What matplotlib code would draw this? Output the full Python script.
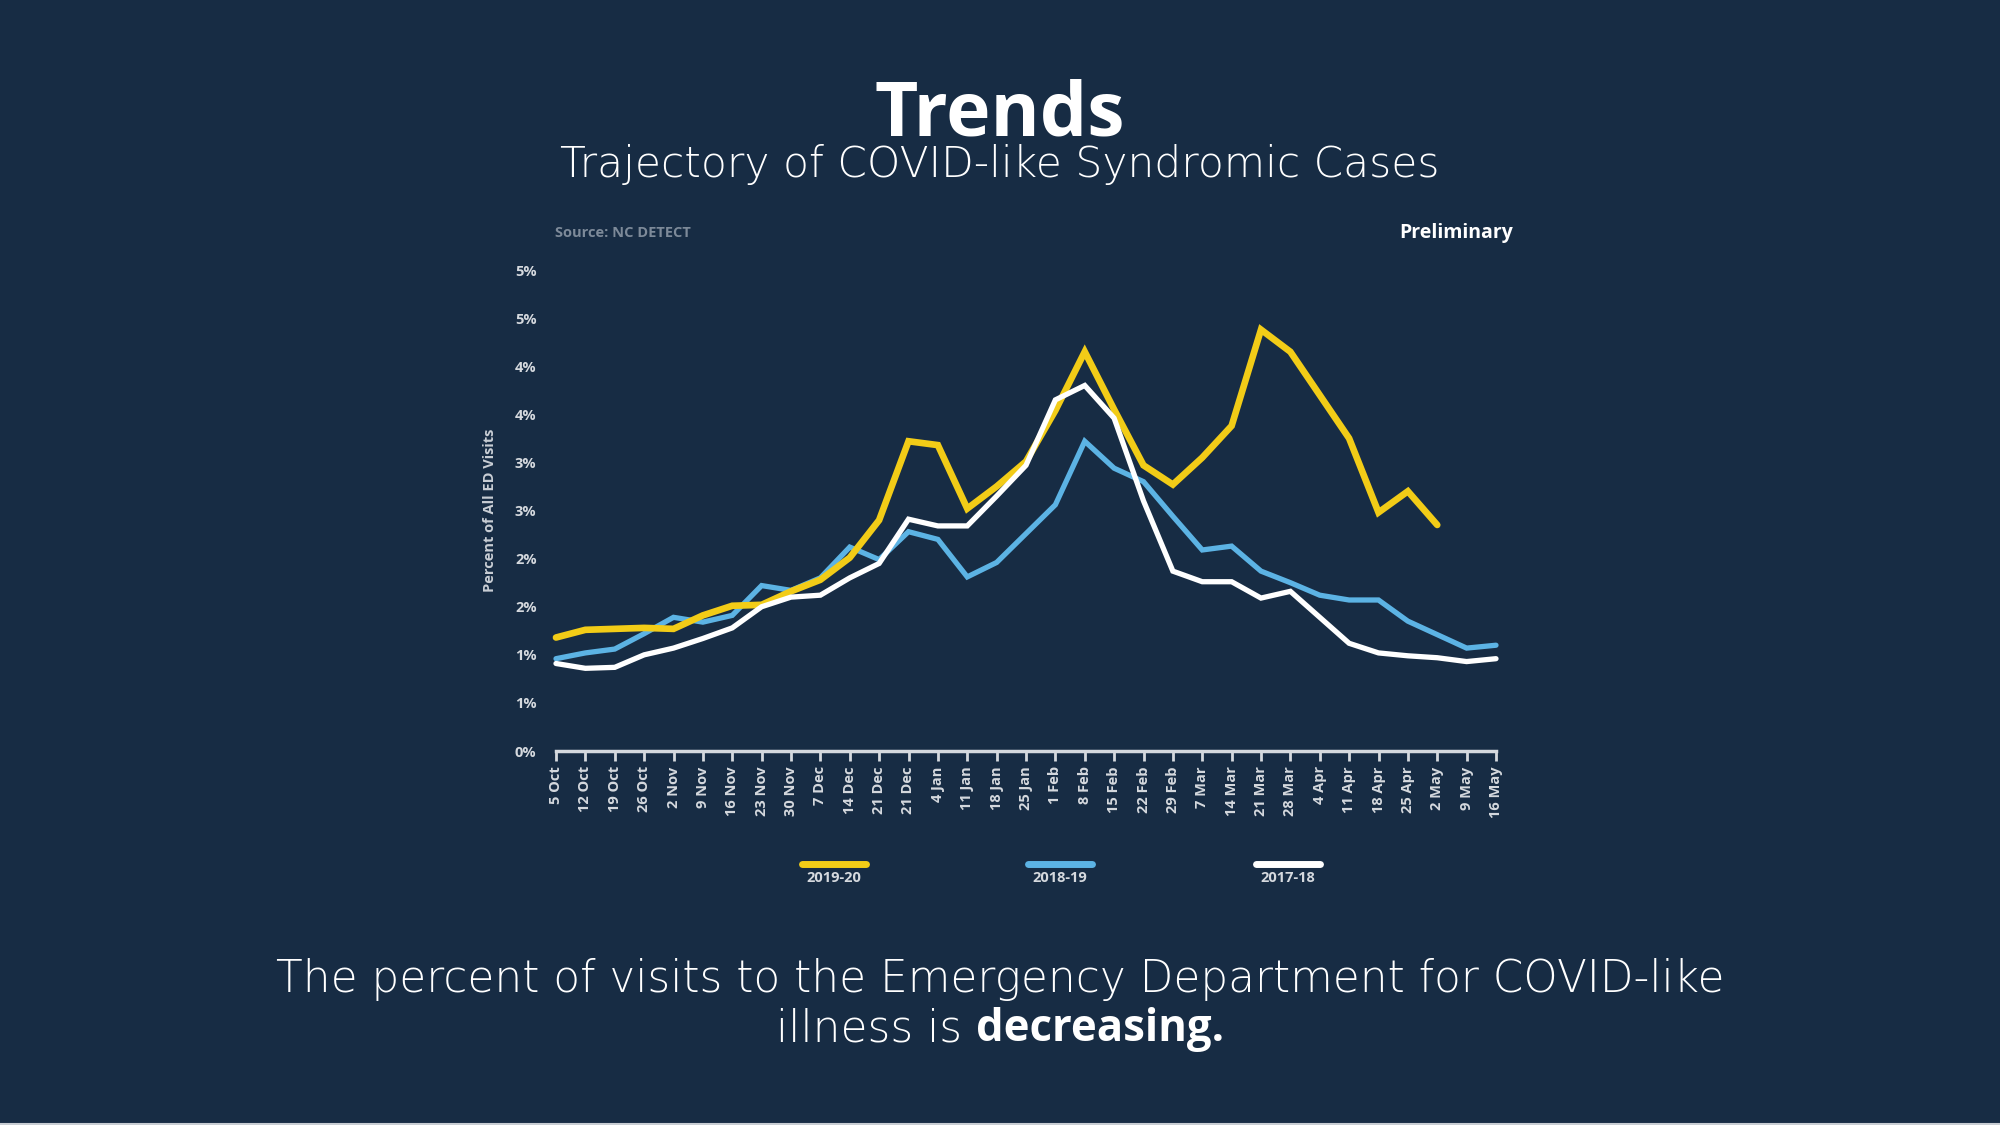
"""Trends: trajectory of COVID-like syndromic cases (NC DETECT), dark slide style."""
import matplotlib
matplotlib.use('Agg')
import matplotlib.pyplot as plt
from matplotlib.lines import Line2D
import numpy as np

BG = '#172C44'
YELLOW = '#F2CC17'
BLUE = '#5CB3E4'
WHITE = '#FFFFFF'
TICK = '#D5D9DE'

plt.rcParams.update({
    'font.family': ['Open Sans', 'DejaVu Sans'],
    'figure.facecolor': BG,
    'axes.facecolor': BG,
})

weeks = ['5 Oct', '12 Oct', '19 Oct', '26 Oct', '2 Nov', '9 Nov', '16 Nov', '23 Nov',
         '30 Nov', '7 Dec', '14 Dec', '21 Dec', '21 Dec', '4 Jan', '11 Jan', '18 Jan',
         '25 Jan', '1 Feb', '8 Feb', '15 Feb', '22 Feb', '29 Feb', '7 Mar', '14 Mar',
         '21 Mar', '28 Mar', '4 Apr', '11 Apr', '18 Apr', '25 Apr', '2 May', '9 May', '16 May']

s2019_20 = [1.18, 1.26, 1.27, 1.28, 1.27, 1.41, 1.51, 1.52, 1.66, 1.78, 2.01, 2.40, 3.22,
            3.18, 2.52, 2.75, 3.01, 3.54, 4.15, 3.55, 2.97, 2.77, 3.05, 3.38, 4.38, 4.15,
            3.70, 3.25, 2.48, 2.70, 2.35]
s2018_19 = [0.96, 1.02, 1.06, 1.22, 1.39, 1.34, 1.41, 1.72, 1.67, 1.80, 2.12, 1.99, 2.28,
            2.20, 1.81, 1.96, 2.26, 2.56, 3.22, 2.94, 2.80, 2.44, 2.09, 2.13, 1.87, 1.75,
            1.62, 1.57, 1.57, 1.35, 1.21, 1.07, 1.10]
s2017_18 = [0.91, 0.86, 0.87, 1.00, 1.07, 1.17, 1.28, 1.50, 1.60, 1.62, 1.80, 1.95, 2.41,
            2.34, 2.34, 2.65, 2.97, 3.65, 3.80, 3.46, 2.60, 1.87, 1.76, 1.76, 1.59, 1.66,
            1.39, 1.12, 1.02, 0.99, 0.97, 0.93, 0.96]

yticks = [0, 0.5, 1, 1.5, 2, 2.5, 3, 3.5, 4, 4.5, 5]
ytick_labels = ['0%', '1%', '1%', '2%', '2%', '3%', '3%', '4%', '4%', '5%', '5%']

LIGHT = ['DejaVu Sans', 'Open Sans']  # wider face, closer to the slide's geometric font

fig = plt.figure(figsize=(20, 11.25), dpi=100)
ax = fig.add_axes([0.278, 0.3324, 0.470, 0.4276])

x = np.arange(len(weeks))
ax.plot(x[:len(s2018_19)], s2018_19, color=BLUE, lw=3.8, solid_capstyle='round',
        solid_joinstyle='miter', clip_on=False, zorder=3)
ax.plot(x[:len(s2019_20)], s2019_20, color=YELLOW, lw=4.8, solid_capstyle='round',
        solid_joinstyle='miter', clip_on=False, zorder=4)
ax.plot(x[:len(s2017_18)], s2017_18, color=WHITE, lw=3.8, solid_capstyle='round',
        solid_joinstyle='miter', clip_on=False, zorder=5)

ax.set_xlim(0, len(weeks) - 1)
ax.set_ylim(0, 5)
ax.set_yticks(yticks)
ax.set_yticklabels(ytick_labels)
ax.set_xticks(x)
ax.set_xticklabels(weeks, rotation=90)

for side in ['top', 'right', 'left']:
    ax.spines[side].set_visible(False)
ax.spines['bottom'].set_color(TICK)
ax.spines['bottom'].set_linewidth(2.5)
ax.tick_params(axis='x', colors=TICK, length=7, width=2, pad=4, labelsize=10.5)
ax.tick_params(axis='y', length=0, pad=14, labelsize=10.5, colors=TICK)
for lbl in ax.get_xticklabels() + ax.get_yticklabels():
    lbl.set_fontweight('bold')
    lbl.set_color(TICK)

ax.set_ylabel('Percent of All ED Visits', color='#C9CED5', fontsize=10.5,
              fontweight='bold', labelpad=13)

# headings
fig.text(0.5, 0.8795, 'Trends', ha='center', va='baseline', color=WHITE,
         fontsize=54, fontweight='bold')
fig.text(0.5, 0.8425, 'Trajectory of COVID-like Syndromic Cases', ha='center',
         va='baseline', color=WHITE, fontsize=30.5, fontweight=200, family=LIGHT)
fig.text(0.2775, 0.793, 'Source: NC DETECT', ha='left', va='center', color='#7D8A99',
         fontsize=10.5, fontweight='bold')
fig.text(0.7565, 0.793, 'Preliminary', ha='right', va='center', color=WHITE,
         fontsize=14, fontweight='bold')

# legend keys drawn underneath the axis, label under each swatch
legend_items = [('2019-20', YELLOW, 0.417), ('2018-19', BLUE, 0.530), ('2017-18', WHITE, 0.644)]
for name, col, cx in legend_items:
    fig.add_artist(Line2D([cx - 0.016, cx + 0.016], [0.2320, 0.2320], color=col, lw=5,
                          solid_capstyle='round', transform=fig.transFigure))
    fig.text(cx, 0.2195, name, ha='center', va='center', color=TICK, fontsize=10.5,
             fontweight='bold')

# bottom message
fig.text(0.5, 0.129, 'The percent of visits to the Emergency Department for COVID-like',
         ha='center', va='center', color=WHITE, fontsize=31.5, fontweight=200, family=LIGHT)
r = fig.canvas.get_renderer()
t1 = fig.text(0, 0.085, 'illness is ', ha='left', va='center', color=WHITE,
              fontsize=31.5, fontweight=200, family=LIGHT)
t2 = fig.text(0, 0.085, 'decreasing.', ha='left', va='center', color=WHITE,
              fontsize=31.5, fontweight='bold')
w1 = t1.get_window_extent(r).width / fig.bbox.width
w2 = t2.get_window_extent(r).width / fig.bbox.width
start = 0.5 - (w1 + w2) / 2
t1.set_x(start)
t2.set_x(start + w1)

fig.add_artist(Line2D([0, 1], [0.001, 0.001], color='#C8CDD3', lw=1.5,
                      transform=fig.transFigure))

fig.savefig('out.png', dpi=100, facecolor=BG)
